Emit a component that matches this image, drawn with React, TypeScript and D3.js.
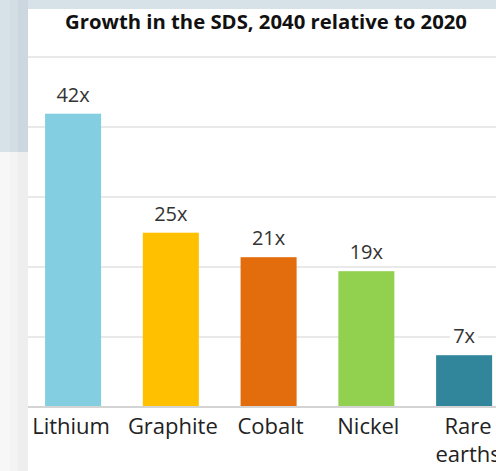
import React from "react";
import * as d3 from "d3";

const categories = ["Lithium", "Graphite", "Cobalt", "Nickel", "Rare earths"];
const values = [41.9, 24.9, 21.4, 19.4, 7.4];
const valueLabels = ["42x", "25x", "21x", "19x", "7x"];
const colors = ["#83cfe1", "#ffc000", "#e36c0c", "#92d050", "#31869b"];
const yTicks = [10, 20, 30, 40, 50];
const title = "Growth in the SDS, 2040 relative to 2020";

const W = 496;
const H = 471;
const FONT = "'Open Sans', 'Noto Sans', sans-serif";

export default function App() {
  const y = d3.scaleLinear().domain([0, 50]).range([407, 57]);
  const x = d3
    .scaleBand<string>()
    .domain(categories)
    .range([24.2, 513])
    .paddingInner(0.427)
    .paddingOuter(0.2135);

  return (
    <div style={{ position: "absolute", left: 0, top: 0 }}>
      <svg width={W} height={H} style={{ display: "block" }}>
        {/* background */}
        <rect x={0} y={0} width={W} height={H} fill="#d7e1e8" />
        <rect x={0} y={152} width={28} height={H - 152} fill="#f7f7f7" />
        <rect x={10} y={0} width={8} height={152} fill="#d3dde4" />
        <rect x={18} y={0} width={10} height={152} fill="#ccd7df" />
        <rect x={10} y={152} width={8} height={H - 152} fill="#f3f3f3" />
        <rect x={18} y={152} width={10} height={H - 152} fill="#eeeeee" />
        <rect x={28} y={9} width={W - 28} height={H - 9} fill="#ffffff" />

        {/* title */}
        <text
          x={266}
          y={29}
          textAnchor="middle"
          fontFamily={FONT}
          fontWeight={700}
          fontSize={20.3}
          fill="#111"
        >
          {title}
        </text>

        {/* gridlines */}
        {yTicks.map((t) => (
          <line
            key={t}
            x1={28}
            x2={W}
            y1={y(t)}
            y2={y(t)}
            stroke="#e2e2e2"
            strokeWidth={1.5}
          />
        ))}

        {/* bars */}
        {categories.map((c, i) => (
          <rect
            key={c}
            x={x(c)}
            y={y(values[i])}
            width={x.bandwidth()}
            height={y(0) - y(values[i])}
            fill={colors[i]}
          />
        ))}

        {/* baseline */}
        <line x1={28} x2={W} y1={y(0)} y2={y(0)} stroke="#d4d4d4" strokeWidth={2} />

        {/* value labels */}
        {categories.map((c, i) => {
          const cx = (x(c) as number) + x.bandwidth() / 2;
          const by = y(values[i]) - 12;
          const w = valueLabels[i].length * 11 + 6;
          return (
            <g key={c}>
              <rect x={cx - w / 2} y={by - 17} width={w} height={21} fill="#ffffff" />
              <text
                x={cx}
                y={by}
                textAnchor="middle"
                fontFamily={FONT}
                fontSize={20}
                fill="#333"
              >
                {valueLabels[i]}
              </text>
            </g>
          );
        })}

        {/* category labels */}
        {categories.map((c, i) => {
          const cx = (x(c) as number) + x.bandwidth() / 2 + (i === 0 ? -2 : i === 4 ? 4 : 2);
          const words = c === "Rare earths" ? ["Rare", "earths"] : [c];
          return (
            <text
              key={c}
              x={cx}
              y={434}
              textAnchor="middle"
              fontFamily={FONT}
              fontSize={22}
              fill="#222"
            >
              {words.map((wd, j) => (
                <tspan key={j} x={cx} dy={j === 0 ? 0 : 28}>
                  {wd}
                </tspan>
              ))}
            </text>
          );
        })}
      </svg>
    </div>
  );
}
